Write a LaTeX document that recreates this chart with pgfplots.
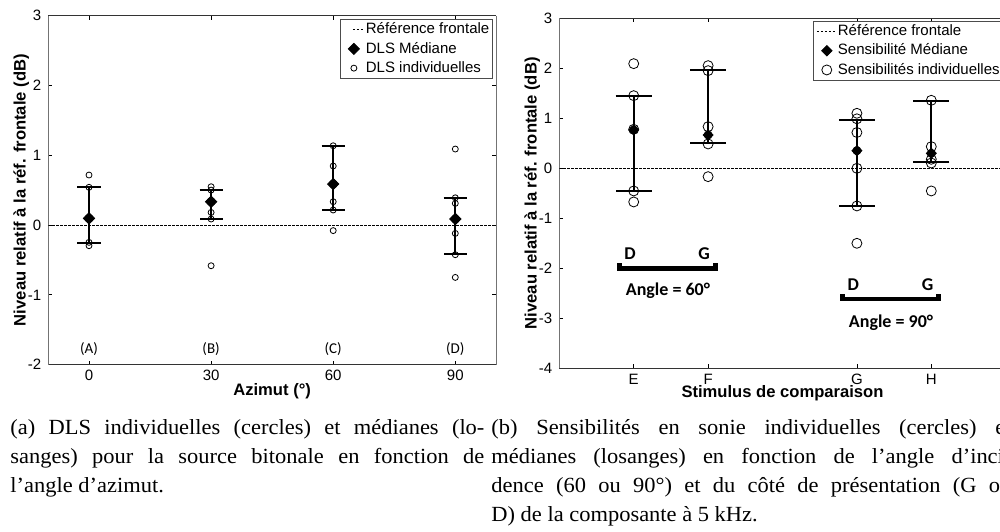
\documentclass[border=0pt]{standalone}
\usepackage{pgfplots}
\usepackage{pgfplotstable}
\pgfplotsset{compat=1.18}
\usepackage{fontspec}
\setmainfont{Liberation Serif}[FakeStretch=1.04]
\newfontfamily\arial{Liberation Sans}
\newfontfamily\calibri{Carlito}

% ---------- panel (a) ----------
\pgfplotstableread{
x y
0 0.716
0 0.54
0 -0.248
0 -0.296
30 0.548
30 0.50
30 0.18
30 0.086
30 -0.583
60 1.135
60 0.845
60 0.334
60 0.215
60 -0.08
90 1.088
90 0.39
90 0.31
90 -0.12
90 -0.425
90 -0.75
}\indivA
\pgfplotstableread{
x y ep em
0 0.096 0.444 0.349
30 0.334 0.166 0.248
60 0.587 0.543 0.372
90 0.086 0.294 0.501
}\medA

% ---------- panel (b) ----------
\pgfplotstableread{
x y
1 2.093
1 1.453
1 0.78
1 -0.453
1 -0.673
2 2.053
2 1.953
2 0.833
2 0.487
2 -0.167
4 1.10
4 0.99
4 0.716
4 0.0
4 -0.753
4 -1.5
5 1.36
5 0.433
5 0.18
5 0.106
5 -0.453
}\indivB
\pgfplotstableread{
x y ep em
1 0.767 0.686 1.220
2 0.667 1.293 0.167
4 0.353 0.610 1.100
5 0.300 1.043 0.180
}\medB

\tikzset{dashref/.style={black, line width=0.4pt, dash pattern=on 1.2pt off 0.8pt}}
\pgfplotsset{
  panel/.style={
    scale only axis, anchor=south west,
    separate axis lines,
    x axis line style={black!80, line width=0.5pt},
    y axis line style={black!55, line width=0.5pt},
    tick style={black, line width=0.4pt},
    major tick length=2pt,
    tick align=inside,
    tick label style={font=\arial\fontsize{7.5}{9}\selectfont},
    xticklabel style={inner sep=0pt, yshift=-2.5pt},
    label style={font=\arial\bfseries\fontsize{8.3}{10}\selectfont, inner sep=0pt},
    legend cell align=left,
    minor tick num=0,
  },
  leg/.style={
    draw=black!70, line width=0.4pt, fill=white,
    font=\arial\fontsize{7.5}{9.6}\selectfont,
    inner xsep=1pt, inner ysep=1.1pt, row sep=1.8pt, column sep=0pt,
    nodes={inner xsep=0.5pt, inner ysep=0pt, text height=6pt, text depth=1.8pt}},
}

\begin{document}
\begin{tikzpicture}
\useasboundingbox (0,0) rectangle (500pt,265.5pt);
\clip (0,0) rectangle (500pt,265.5pt);
\begin{scope}
\clip (0,65.5pt) rectangle (500pt,265.5pt);
% ================= (a) =================
\begin{axis}[panel,
  at={(24.15pt,83.15pt)}, width=223.85pt, height=174.6pt,
  xmin=-10, xmax=100, ymin=-2, ymax=3,
  xtick={0,30,60,90}, xticklabels={0,30,60,90},
  ytick={-2,-1,0,1,2,3}, yticklabels={-2,-1,0,1,2,3},
  xlabel={Azimut (°)},
  ylabel={Niveau relatif à la réf. frontale (dB)},
  xlabel style={at={(axis description cs:0.5,-0.088)}, anchor=base},
  ylabel style={at={(axis description cs:-0.0505,0.5)}, anchor=base},
  legend style={leg, at={(axis description cs:0.9926,0.989)}, anchor=north east},
]
\addlegendimage{legend image code/.code={\path (0pt,0pt) (10.65pt,0pt);
  \draw[dashref] (4.85pt,0pt) -- (10.65pt,0pt);}}
\addlegendentry{Référence frontale}
\addlegendimage{legend image code/.code={\path (0pt,0pt) (10.65pt,0pt);
  \fill[black] (5.35pt,2.8pt) -- (8.15pt,0pt) -- (5.35pt,-2.8pt) -- (2.55pt,0pt) -- cycle;}}
\addlegendentry{DLS Médiane}
\addlegendimage{legend image code/.code={\path (0pt,0pt) (10.65pt,0pt);
  \draw[black, line width=0.4pt] (5.35pt,0pt) circle[radius=1.5pt];}}
\addlegendentry{DLS individuelles}

\addplot[dashref, forget plot] coordinates {(-10,0) (100,0)};
\addplot[black, only marks, mark=none, forget plot,
  error bars/.cd, y dir=both, y explicit, error mark=|,
  error bar style={line width=1pt, black},
  error mark options={line width=1pt, black, mark size=5.8pt}]
  table[x=x, y=y, y error plus=ep, y error minus=em] {\medA};
\addplot[only marks, mark=o, mark size=1.5pt, forget plot,
  mark options={black, line width=0.4pt, fill=none}] table[x=x,y=y] {\indivA};
\addplot[only marks, mark=square*, mark size=2pt, forget plot,
  mark options={black, fill=black, rotate=45}] table[x=x,y=y] {\medA};

\node[font=\calibri\fontsize{7.5}{9}\selectfont] at (axis cs:0,-1.775) {(A)};
\node[font=\calibri\fontsize{7.5}{9}\selectfont] at (axis cs:30,-1.775) {(B)};
\node[font=\calibri\fontsize{7.5}{9}\selectfont] at (axis cs:60,-1.775) {(C)};
\node[font=\calibri\fontsize{7.5}{9}\selectfont] at (axis cs:90,-1.775) {(D)};
\end{axis}

% ================= (b) =================
\begin{axis}[panel,
  at={(279.65pt,81.35pt)}, width=223.2pt, height=175pt,
  xmin=0, xmax=6, ymin=-4, ymax=3,
  xtick={1,2,4,5}, xticklabels={E,F,G,H},
  ytick={-4,-3,-2,-1,0,1,2,3}, yticklabels={-4,-3,-2,-1,0,1,2,3},
  xlabel={Stimulus de comparaison},
  ylabel={Niveau relatif à la réf. frontale (dB)},
  xlabel style={at={(axis description cs:0.5,-0.084)}, anchor=base},
  ylabel style={at={(axis description cs:-0.051,0.5)}, anchor=base},
  legend style={leg, inner ysep=1.3pt, at={(axis description cs:0.569,0.993)}, anchor=north west},
]
\addlegendimage{legend image code/.code={\path (0pt,0pt) (10.2pt,0pt);
  \draw[dashref] (0.35pt,0pt) -- (9.85pt,0pt);}}
\addlegendentry{Référence frontale}
\addlegendimage{legend image code/.code={\path (0pt,0pt) (10.2pt,0pt);
  \fill[black] (5.35pt,2.6pt) -- (7.95pt,0pt) -- (5.35pt,-2.6pt) -- (2.75pt,0pt) -- cycle;}}
\addlegendentry{Sensibilité Médiane}
\addlegendimage{legend image code/.code={\path (0pt,0pt) (10.2pt,0pt);
  \draw[black, line width=0.4pt] (5.35pt,0pt) circle[radius=2.5pt];}}
\addlegendentry{Sensibilités individuelles}

\addplot[dashref, forget plot] coordinates {(0,0) (6,0)};
\addplot[black, only marks, mark=none, forget plot,
  error bars/.cd, y dir=both, y explicit, error mark=|,
  error bar style={line width=1pt, black},
  error mark options={line width=1pt, black, mark size=9pt}]
  table[x=x, y=y, y error plus=ep, y error minus=em] {\medB};
\addplot[only marks, mark=o, mark size=2.5pt, forget plot,
  mark options={black, line width=0.4pt, fill=none}] table[x=x,y=y] {\indivB};
\addplot[only marks, mark=square*, mark size=1.75pt, forget plot,
  mark options={black, fill=black, rotate=45}] table[x=x,y=y] {\medB};

\begin{scope}[font=\calibri\bfseries\fontsize{9}{11}\selectfont]
\node at (axis cs:0.95,-1.70) {D};
\node at (axis cs:1.946,-1.70) {G};
\node at (axis cs:1.46,-2.44) {Angle = 60°};
\node at (axis cs:3.952,-2.333) {D};
\node at (axis cs:4.951,-2.333) {G};
\node at (axis cs:4.458,-3.08) {Angle = 90°};
\end{scope}
\draw[black, line width=2.3pt] (axis cs:0.805,-1.9) -- (axis cs:0.805,-2.0) -- (axis cs:2.10,-2.0) -- (axis cs:2.10,-1.9);
\draw[black, line width=2.3pt] (axis cs:3.81,-2.52) -- (axis cs:3.81,-2.614) -- (axis cs:5.10,-2.614) -- (axis cs:5.10,-2.52);
\end{axis}
\end{scope}

% ================= captions =================
\begin{scope}[every node/.style={anchor=base west, inner sep=0pt, font=\fontsize{10.8}{13}\selectfont}]
\node at (5pt,48.35pt) {\makebox[237pt][s]{(a) DLS individuelles (cercles) et médianes (lo-}};
\node at (5pt,33.85pt) {\makebox[237pt][s]{sanges) pour la source bitonale en fonction de}};
\node at (5pt,19.35pt) {l’angle d’azimut.};
\node at (245.5pt,48.35pt) {\makebox[260pt][s]{(b) Sensibilités en sonie individuelles (cercles) et}};
\node at (245.5pt,33.85pt) {\makebox[260pt][s]{médianes (losanges) en fonction de l’angle d’inci-}};
\node at (245.5pt,19.35pt) {\makebox[260pt][s]{dence (60 ou 90°) et du côté de présentation (G ou}};
\node at (245.5pt,4.85pt) {D) de la composante à 5 kHz.};
\end{scope}
\end{tikzpicture}
\end{document}
